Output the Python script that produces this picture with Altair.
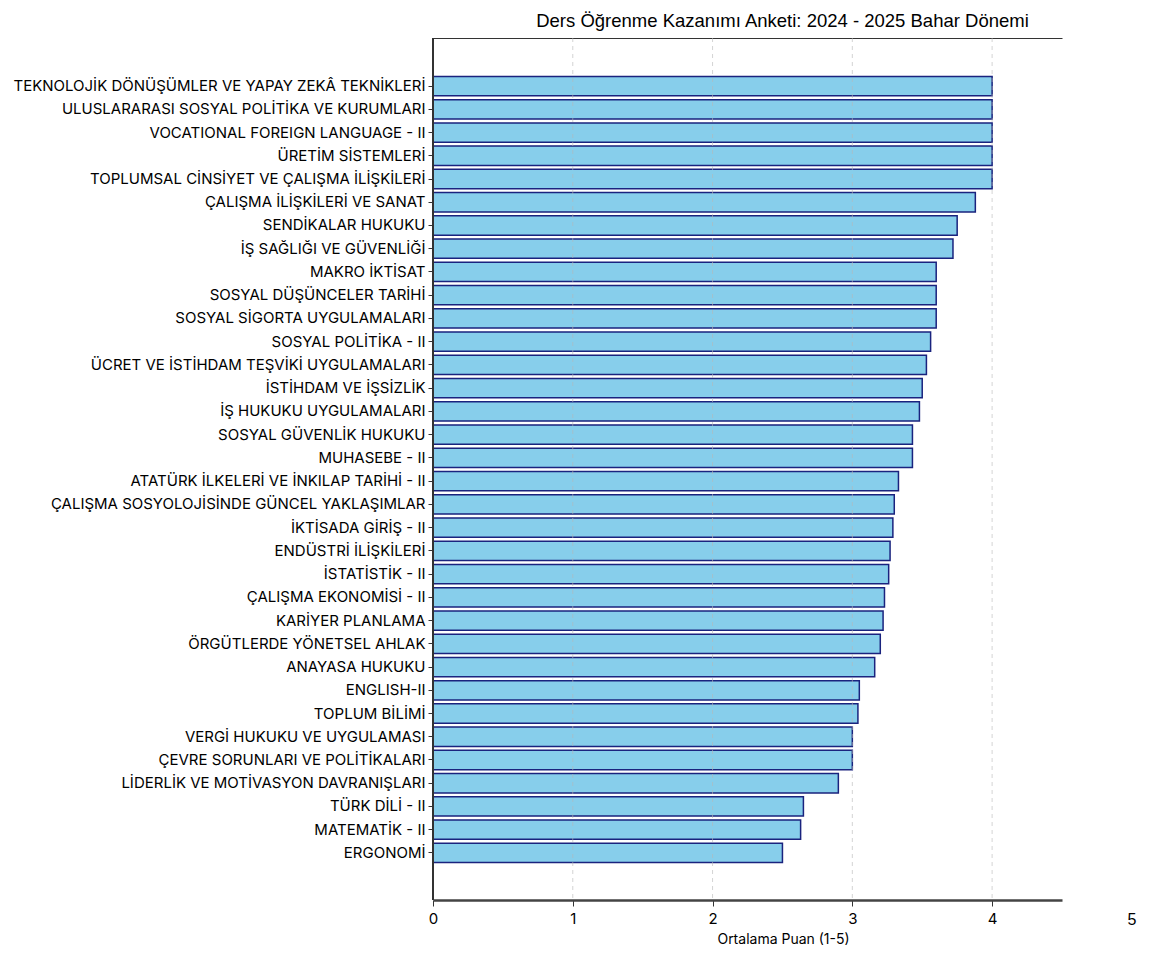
import altair as alt
import pandas as pd

courses = [
    "TEKNOLOJİK DÖNÜŞÜMLER VE YAPAY ZEKÂ TEKNİKLERİ",
    "ULUSLARARASI SOSYAL POLİTİKA VE KURUMLARI",
    "VOCATIONAL FOREIGN LANGUAGE - II",
    "ÜRETİM SİSTEMLERİ",
    "TOPLUMSAL CİNSİYET VE ÇALIŞMA İLİŞKİLERİ",
    "ÇALIŞMA İLİŞKİLERİ VE SANAT",
    "SENDİKALAR HUKUKU",
    "İŞ SAĞLIĞI VE GÜVENLİĞİ",
    "MAKRO İKTİSAT",
    "SOSYAL DÜŞÜNCELER TARİHİ",
    "SOSYAL SİGORTA UYGULAMALARI",
    "SOSYAL POLİTİKA - II",
    "ÜCRET VE İSTİHDAM TEŞVİKİ UYGULAMALARI",
    "İSTİHDAM VE İŞSİZLİK",
    "İŞ HUKUKU UYGULAMALARI",
    "SOSYAL GÜVENLİK HUKUKU",
    "MUHASEBE - II",
    "ATATÜRK İLKELERİ VE İNKILAP TARİHİ - II",
    "ÇALIŞMA SOSYOLOJİSİNDE GÜNCEL YAKLAŞIMLAR",
    "İKTİSADA GİRİŞ - II",
    "ENDÜSTRİ İLİŞKİLERİ",
    "İSTATİSTİK - II",
    "ÇALIŞMA EKONOMİSİ - II",
    "KARİYER PLANLAMA",
    "ÖRGÜTLERDE YÖNETSEL AHLAK",
    "ANAYASA HUKUKU",
    "ENGLISH-II",
    "TOPLUM BİLİMİ",
    "VERGİ HUKUKU VE UYGULAMASI",
    "ÇEVRE SORUNLARI VE POLİTİKALARI",
    "LİDERLİK VE MOTİVASYON DAVRANIŞLARI",
    "TÜRK DİLİ - II",
    "MATEMATİK - II",
    "ERGONOMİ",
]

scores = [
    4.00, 4.00, 4.00, 4.00, 4.00, 3.88, 3.75, 3.72, 3.60, 3.60,
    3.60, 3.56, 3.53, 3.50, 3.48, 3.43, 3.43, 3.33, 3.30, 3.29,
    3.27, 3.26, 3.23, 3.22, 3.20, 3.16, 3.05, 3.04, 3.00, 3.00,
    2.90, 2.65, 2.63, 2.50,
]

x_ticks = [0, 1, 2, 3, 4]
grid_values = [1, 2, 3, 4]
stray_tick = [5]

df = pd.DataFrame({"course": courses, "score": scores})
grid_df = pd.DataFrame({"v": grid_values})
stray_df = pd.DataFrame({"v": stray_tick, "label": [str(v) for v in stray_tick]})

LABEL_FONT = "Inter"
TITLE_FONT = "Liberation Sans"
SPINE = "#333333"

x_scale = alt.Scale(domain=[0, 4.5], nice=False, zero=True)
y_enc = alt.Y(
    "course:N",
    sort=None,
    title=None,
    scale=alt.Scale(paddingInner=0.17, paddingOuter=0, range=[38.4, 824.6]),
    axis=alt.Axis(
        labelFont=LABEL_FONT,
        labelFontSize=15,
        labelColor="#000000",
        labelPadding=3,
        tickSize=5,
        tickColor=SPINE,
        domain=False,
        labelLimit=0,
    ),
)

bars = alt.Chart(df).mark_bar(
    color="#87CEEB", stroke="#1a237e", strokeWidth=1.5
).encode(
    x=alt.X(
        "score:Q",
        scale=x_scale,
        title="Ortalama Puan (1-5)",
        axis=alt.Axis(
            values=x_ticks,
            format="d",
            grid=False,
            labelFlush=False,
            labelFont=LABEL_FONT,
            labelFontSize=15,
            labelColor="#000000",
            labelPadding=5,
            tickSize=6,
            tickColor=SPINE,
            domainColor="#444444",
            domainWidth=2.5,
            titleFont=LABEL_FONT,
            titleFontSize=14,
            titleFontWeight="normal",
            titleColor="#000000",
            titleX=350,
            titlePadding=6,
        ),
    ),
    y=y_enc,
)

grid = alt.Chart(grid_df).mark_rule(
    color="#b8b8b8", strokeDash=[4, 4], strokeWidth=1, opacity=0.6
).encode(x=alt.X("v:Q", scale=x_scale, axis=None))

top = alt.Chart(df).mark_bar(opacity=0).encode(
    x=alt.X(
        "score:Q",
        scale=x_scale,
        axis=alt.Axis(
            orient="top",
            labels=False,
            ticks=False,
            grid=False,
            title=None,
            domainColor=SPINE,
            domainWidth=1,
        ),
    ),
    y=y_enc,
)

left_spine = alt.Chart(df).mark_rule(color=SPINE, strokeWidth=1).encode(
    x=alt.XDatum(0, scale=x_scale, axis=None)
)

stray = alt.Chart(stray_df).mark_text(
    font=TITLE_FONT, fontSize=16, color="#000000", baseline="middle", align="center"
).encode(
    x=alt.X("v:Q", scale=x_scale, axis=None),
    y=alt.value(882),
    text="label:N",
)

chart = alt.layer(bars, grid, top, left_spine, stray).resolve_axis(x="independent").properties(
    width=629,
    height=862,
    title=alt.TitleParams(
        "Ders Öğrenme Kazanımı Anketi: 2024 - 2025 Bahar Dönemi",
        font=TITLE_FONT,
        fontSize=18.5,
        fontWeight="normal",
        color="#000000",
        anchor="middle",
        dx=35,
        offset=7,
    ),
    autosize=alt.AutoSizeParams(type="none"),
    padding={"left": 425, "top": 30, "right": 75, "bottom": 50},
).configure_view(stroke=None)

chart.save("out.html", embed_options={"renderer": "svg", "actions": False})
